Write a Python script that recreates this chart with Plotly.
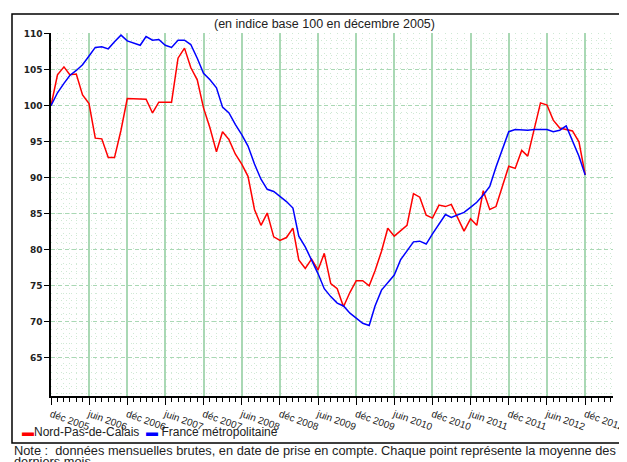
import pandas as pd
import plotly.graph_objects as go

# monthly values, déc 2005 -> déc 2012 (indice base 100 en décembre 2005)
mois = pd.date_range("2005-12-01", periods=85, freq="MS")

nord_pas_de_calais = [
    100.0, 104.3, 105.4, 104.3, 104.4, 101.5, 100.3, 95.5, 95.4, 92.8,
    92.8, 96.6, 101.0, 101.0, 100.9, 100.9, 99.0, 100.5, 100.5, 100.5,
    106.6, 108.0, 105.3, 103.6, 99.7, 96.9, 93.6, 96.4, 95.3, 93.3,
    91.9, 90.2, 85.6, 83.4, 85.1, 81.8, 81.3, 81.7, 83.0, 78.6,
    77.4, 78.7, 77.2, 79.5, 75.3, 74.6, 72.1, 74.1, 75.7, 75.7,
    75.0, 77.1, 79.8, 83.0, 81.9, 82.6, 83.4, 87.8, 87.3, 84.8,
    84.4, 86.2, 86.0, 86.3, 84.3, 82.6, 84.3, 83.4, 88.2, 85.6,
    86.0, 88.8, 91.6, 91.3, 93.8, 93.0, 96.6, 100.4, 100.1, 98.0,
    96.9, 96.7, 96.5, 95.0, 90.4,
]

france_metro = [
    100.0, 101.8, 103.1, 104.2, 104.9, 105.7, 106.9, 108.1, 108.2, 107.9,
    108.9, 109.8, 109.0, 108.7, 108.4, 109.6, 109.1, 109.2, 108.4, 108.1,
    109.1, 109.1, 108.5, 106.6, 104.5, 103.6, 102.5, 99.8, 99.0, 97.4,
    96.0, 94.4, 91.9, 89.8, 88.4, 88.1, 87.4, 86.7, 85.8, 81.9,
    80.4, 78.6, 76.7, 74.6, 73.5, 72.6, 72.2, 71.2, 70.5, 69.8,
    69.5, 72.2, 74.4, 75.5, 76.5, 78.6, 79.9, 81.1, 81.2, 80.8,
    82.2, 83.6, 84.9, 84.5, 84.8, 85.2, 85.9, 86.6, 87.6, 88.8,
    91.5, 94.1, 96.4, 96.7, 96.6, 96.6, 96.7, 96.7, 96.7, 96.4,
    96.6, 97.2, 95.0, 93.0, 90.4,
]

tick_dates = pd.date_range("2005-12-01", periods=15, freq="6MS")
tick_labels = [
    "déc 2005", "juin 2006", "déc 2006", "juin 2007", "déc 2007",
    "juin 2008", "déc 2008", "juin 2009", "déc 2009", "juin 2010",
    "déc 2010", "juin 2011", "déc 2011", "juin 2012", "déc 2012",
]

RED = "#ff0000"
BLUE = "#0000ff"
GRID = "#a9d8b4"
DOTS = "#cfe9d4"
TXT = "#222222"

fig = go.Figure()
fig.add_trace(go.Scatter(x=mois, y=nord_pas_de_calais, mode="lines",
                         line=dict(color=RED, width=1.5),
                         name="Nord-Pas-de-Calais", showlegend=False))
fig.add_trace(go.Scatter(x=mois, y=france_metro, mode="lines",
                         line=dict(color=BLUE, width=1.5),
                         name="France métropolitaine", showlegend=False))

fig.update_xaxes(
    range=["2005-12-01", "2013-04-13"], automargin=False,
    tickvals=tick_dates, ticktext=tick_labels, tickangle=20,
    tickfont=dict(family="Liberation Sans, Arial", size=10, color=TXT),
    ticks="outside", ticklen=7, tickcolor="black", tickwidth=1,
    showgrid=True, gridcolor=GRID, gridwidth=2,
    showline=True, linecolor="black", linewidth=1.5,
    zeroline=False,
    minor=dict(dtick="M1", tick0="2005-12-01", ticks="outside", ticklen=4,
               tickcolor="black", showgrid=True, gridcolor=DOTS,
               griddash="1px,4px", gridwidth=1),
)
fig.update_yaxes(
    range=[59.7, 110.1], automargin=False,
    tickvals=[65, 70, 75, 80, 85, 90, 95, 100, 105, 110],
    tickfont=dict(family="DejaVu Sans", size=9, color=TXT, weight="bold"),
    ticks="outside", ticklen=5, tickcolor="black",
    showgrid=True, gridcolor=GRID, gridwidth=1, griddash="4px,3px",
    showline=True, linecolor="black", linewidth=1.5,
    zeroline=False,
    minor=dict(dtick=1, showgrid=True, gridcolor=DOTS, griddash="1px,4px",
               gridwidth=1),
)

# outer frame
fig.add_shape(type="rect", xref="paper", yref="paper",
              x0=-0.0694, x1=1.1, y0=-0.1295, y1=1.0523,
              line=dict(color="black", width=1.5), layer="above")

fig.add_annotation(text="(en indice base 100 en décembre 2005)",
                   xref="paper", yref="paper", x=0.4875, y=1.024,
                   showarrow=False, xanchor="center", yanchor="middle",
                   font=dict(family="Liberation Sans, Arial", size=12.5, color=TXT))

fig.add_annotation(
    text=f"<span style='color:{RED}'>▬</span>Nord-Pas-de-Calais&nbsp;&nbsp;"
         f"<span style='color:{BLUE}'>▬</span>&nbsp;France métropolitaine",
    xref="paper", yref="paper", x=-0.0552, y=-0.0992,
    showarrow=False, xanchor="left", yanchor="middle",
    font=dict(family="Liberation Sans, Arial", size=12, color=TXT))

fig.add_annotation(
    text="Note :  données mensuelles brutes, en date de prise en compte. "
         "Chaque point représente la moyenne des 12",
    xref="paper", yref="paper", x=-0.0694, y=-0.1488,
    showarrow=False, xanchor="left", yanchor="middle",
    font=dict(family="Liberation Sans, Arial", size=12.8, color=TXT))
fig.add_annotation(
    text="derniers mois",
    xref="paper", yref="paper", x=-0.0694, y=-0.181,
    showarrow=False, xanchor="left", yanchor="middle",
    font=dict(family="Liberation Sans, Arial", size=12.8, color=TXT))

# the page puts the figure 8px in from the window corner
fig.update_layout(
    width=619, height=454,
    margin=dict(l=43, r=14, t=25, b=66),
    paper_bgcolor="white", plot_bgcolor="white",
    showlegend=False,
)

fig.write_html("out.html")
